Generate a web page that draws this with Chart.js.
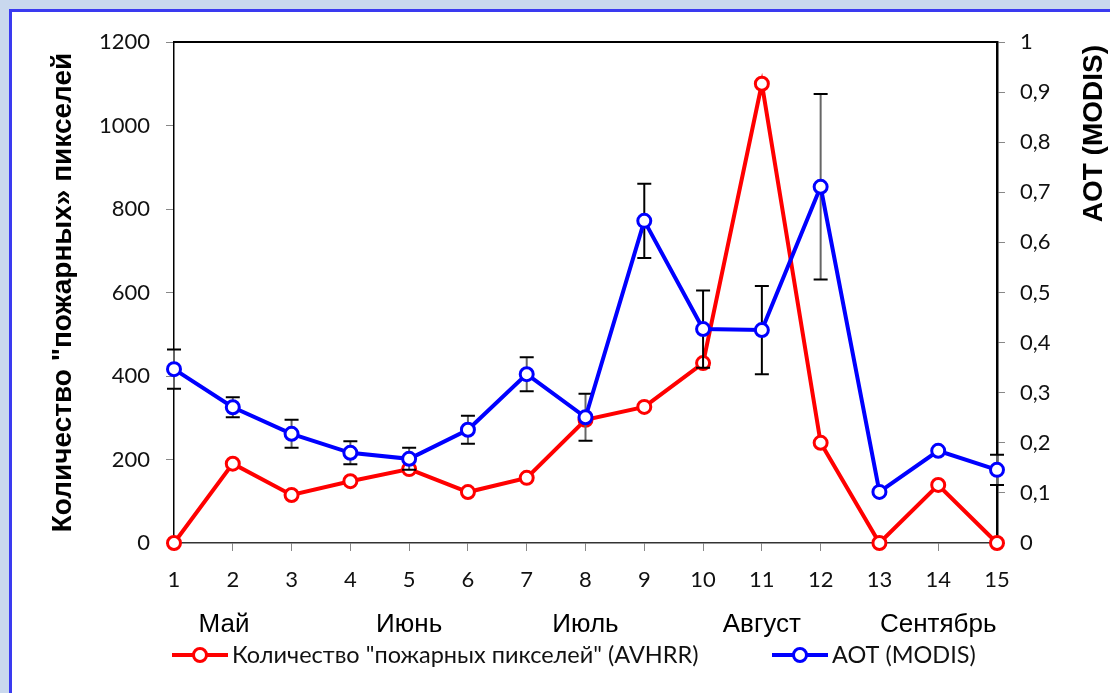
<!DOCTYPE html>
<html>
<head>
<meta charset="utf-8">
<script src="https://cdn.jsdelivr.net/npm/chart.js@4/dist/chart.umd.min.js"></script>
<style>
  html, body { margin: 0; padding: 0; width: 1110px; height: 693px; overflow: hidden; background: #c9d8ee; }
  #frame { position: absolute; left: 9px; top: 9px; right: 0; bottom: 0; background: #fff;
           border-left: 3.5px solid #3a3af0; border-top: 3px solid #3a3af0; }
  canvas { position: absolute; left: 0; top: 0; }
</style>
</head>
<body>
<div id="frame"></div>
<canvas id="chart" width="1110" height="693"></canvas>
<script>
// Week numbers along the bottom axis
const weeks = ['1', '2', '3', '4', '5', '6', '7', '8', '9', '10', '11', '12', '13', '14', '15'];
// Fire pixel counts (AVHRR), left axis
const firePixels = [0, 190, 115, 148, 177, 122, 156, 295, 326, 431, 1100, 240, 0, 139, 0];
// Aerosol optical thickness (MODIS), right axis
const aot = [0.347, 0.271, 0.218, 0.180, 0.168, 0.226, 0.337, 0.251, 0.643, 0.427, 0.425, 0.711, 0.102, 0.184, 0.146];
// Half-length of AOT error bars (null = no bar)
const aotErr = [0.039, 0.020, 0.028, 0.023, 0.022, 0.028, 0.034, 0.047, 0.074, 0.077, 0.088, 0.185, null, null, 0.030];
// Month names under the week numbers
const months = ['Май', 'Июнь', 'Июль', 'Август', 'Сентябрь'];
const monthAnchors = [1.85, 5, 8, 11, 14];

const fireLabel = 'Количество "пожарных пикселей" (AVHRR)';
const aotLabel = 'AOT (MODIS)';

const RED = '#ff0000';
const BLUE = '#0000ff';
const TICK_FONT = { family: 'Lato', size: 22 };

// Error bars are painted right after the red series so the blue line sits on top
const errorBars = {
  id: 'errorBars',
  afterDatasetDraw(chart, args) {
    if (args.index !== 0) return;
    const { ctx, scales: { x, y1 } } = chart;
    ctx.save();
    aotErr.forEach((e, i) => {
      if (e == null) return;
      const px = x.getPixelForValue(i);
      const top = y1.getPixelForValue(aot[i] + e);
      const bot = y1.getPixelForValue(aot[i] - e);
      ctx.strokeStyle = (i >= 8 && i <= 10) ? '#000' : '#666';
      ctx.lineWidth = 2;
      ctx.beginPath(); ctx.moveTo(px, top); ctx.lineTo(px, bot); ctx.stroke();
      ctx.strokeStyle = '#000';
      ctx.lineWidth = 2;
      ctx.beginPath();
      ctx.moveTo(px - 7, top); ctx.lineTo(px + 7, top);
      ctx.moveTo(px - 7, bot); ctx.lineTo(px + 7, bot);
      ctx.stroke();
    });
    ctx.restore();
  }
};

// Plot box top edge, right axis title, month names and the legend
const decorations = {
  id: 'decorations',
  afterDraw(chart) {
    const { ctx, chartArea: a, scales: { x } } = chart;
    ctx.save();
    ctx.strokeStyle = '#000';
    ctx.lineWidth = 2;
    ctx.beginPath(); ctx.moveTo(a.left, a.top); ctx.lineTo(a.right + 1, a.top); ctx.stroke();

    // right axis title, reading upwards
    ctx.save();
    ctx.translate(1094, 45);
    ctx.rotate(-Math.PI / 2);
    ctx.font = 'bold 28px "Liberation Sans"';
    ctx.fillStyle = '#000';
    ctx.textAlign = 'right';
    ctx.textBaseline = 'middle';
    ctx.fillText(aotLabel, 0, 0);
    ctx.restore();

    // months
    ctx.font = '26px "Liberation Sans"';
    ctx.fillStyle = '#000';
    ctx.textAlign = 'center';
    ctx.textBaseline = 'alphabetic';
    const step = x.getPixelForValue(1) - x.getPixelForValue(0);
    months.forEach((m, i) => {
      const px = x.getPixelForValue(0) + (monthAnchors[i] - 1) * step;
      ctx.fillText(m, px, 632);
    });

    // legend
    const item = (x0, color, text) => {
      const yc = 655;
      ctx.strokeStyle = color;
      ctx.lineWidth = 4;
      ctx.beginPath(); ctx.moveTo(x0, yc); ctx.lineTo(x0 + 56, yc); ctx.stroke();
      ctx.fillStyle = '#fff';
      ctx.lineWidth = 3;
      ctx.beginPath(); ctx.arc(x0 + 28, yc, 6.5, 0, Math.PI * 2); ctx.fill(); ctx.stroke();
      ctx.fillStyle = '#111';
      ctx.font = '23.5px Lato';
      ctx.textAlign = 'left';
      ctx.textBaseline = 'middle';
      ctx.fillText(text, x0 + 60, yc);
    };
    item(172, RED, fireLabel);
    item(772, BLUE, aotLabel);
    ctx.restore();
  }
};

new Chart(document.getElementById('chart'), {
  type: 'line',
  data: {
    labels: weeks,
    datasets: [
      {
        label: fireLabel,
        data: firePixels,
        yAxisID: 'y',
        order: 2,
        borderColor: RED,
        borderWidth: 4,
        pointRadius: 6.5,
        pointBorderWidth: 3,
        pointBackgroundColor: '#fff',
        pointBorderColor: RED,
        tension: 0,
        clip: false
      },
      {
        label: aotLabel,
        data: aot,
        yAxisID: 'y1',
        order: 1,
        borderColor: BLUE,
        borderWidth: 4,
        pointRadius: 6.5,
        pointBorderWidth: 3,
        pointBackgroundColor: '#fff',
        pointBorderColor: BLUE,
        tension: 0,
        clip: false
      }
    ]
  },
  options: {
    responsive: false,
    animation: false,
    devicePixelRatio: 1,
    layout: { padding: { top: 42, left: 0, right: 0, bottom: 0 } },
    plugins: { legend: { display: false }, tooltip: { enabled: false } },
    scales: {
      x: {
        type: 'category',
        offset: false,
        afterFit(s) { s.height = 150; },
        grid: { drawOnChartArea: false, drawTicks: true, tickLength: 8, tickColor: '#888' },
        border: { color: '#333', width: 1.5 },
        ticks: { font: TICK_FONT, color: '#111', padding: 16, maxRotation: 0 }
      },
      y: {
        position: 'left',
        min: 0, max: 1200,
        afterFit(s) { s.width = 174; },
        grid: { drawOnChartArea: false, drawTicks: true, tickLength: 8, tickColor: '#888' },
        border: { color: '#000', width: 1.5 },
        ticks: { stepSize: 200, font: TICK_FONT, color: '#111', padding: 16, callback: v => String(v) },
        title: {
          display: true,
          text: 'Количество "пожарных» пикселей',
          font: { family: 'Liberation Sans', size: 28, weight: 'bold' },
          color: '#000',
          padding: { top: 46, bottom: 0 }
        }
      },
      y1: {
        position: 'right',
        min: 0, max: 1,
        afterFit(s) { s.width = 113; },
        grid: { drawOnChartArea: false, drawTicks: true, tickLength: 8, tickColor: '#888' },
        border: { color: '#000', width: 2.5 },
        ticks: {
          stepSize: 0.1, font: TICK_FONT, color: '#111', padding: 15,
          callback: v => (Math.round(v * 10) / 10).toString().replace('.', ',')
        }
      }
    }
  },
  plugins: [errorBars, decorations]
});
</script>
</body>
</html>
